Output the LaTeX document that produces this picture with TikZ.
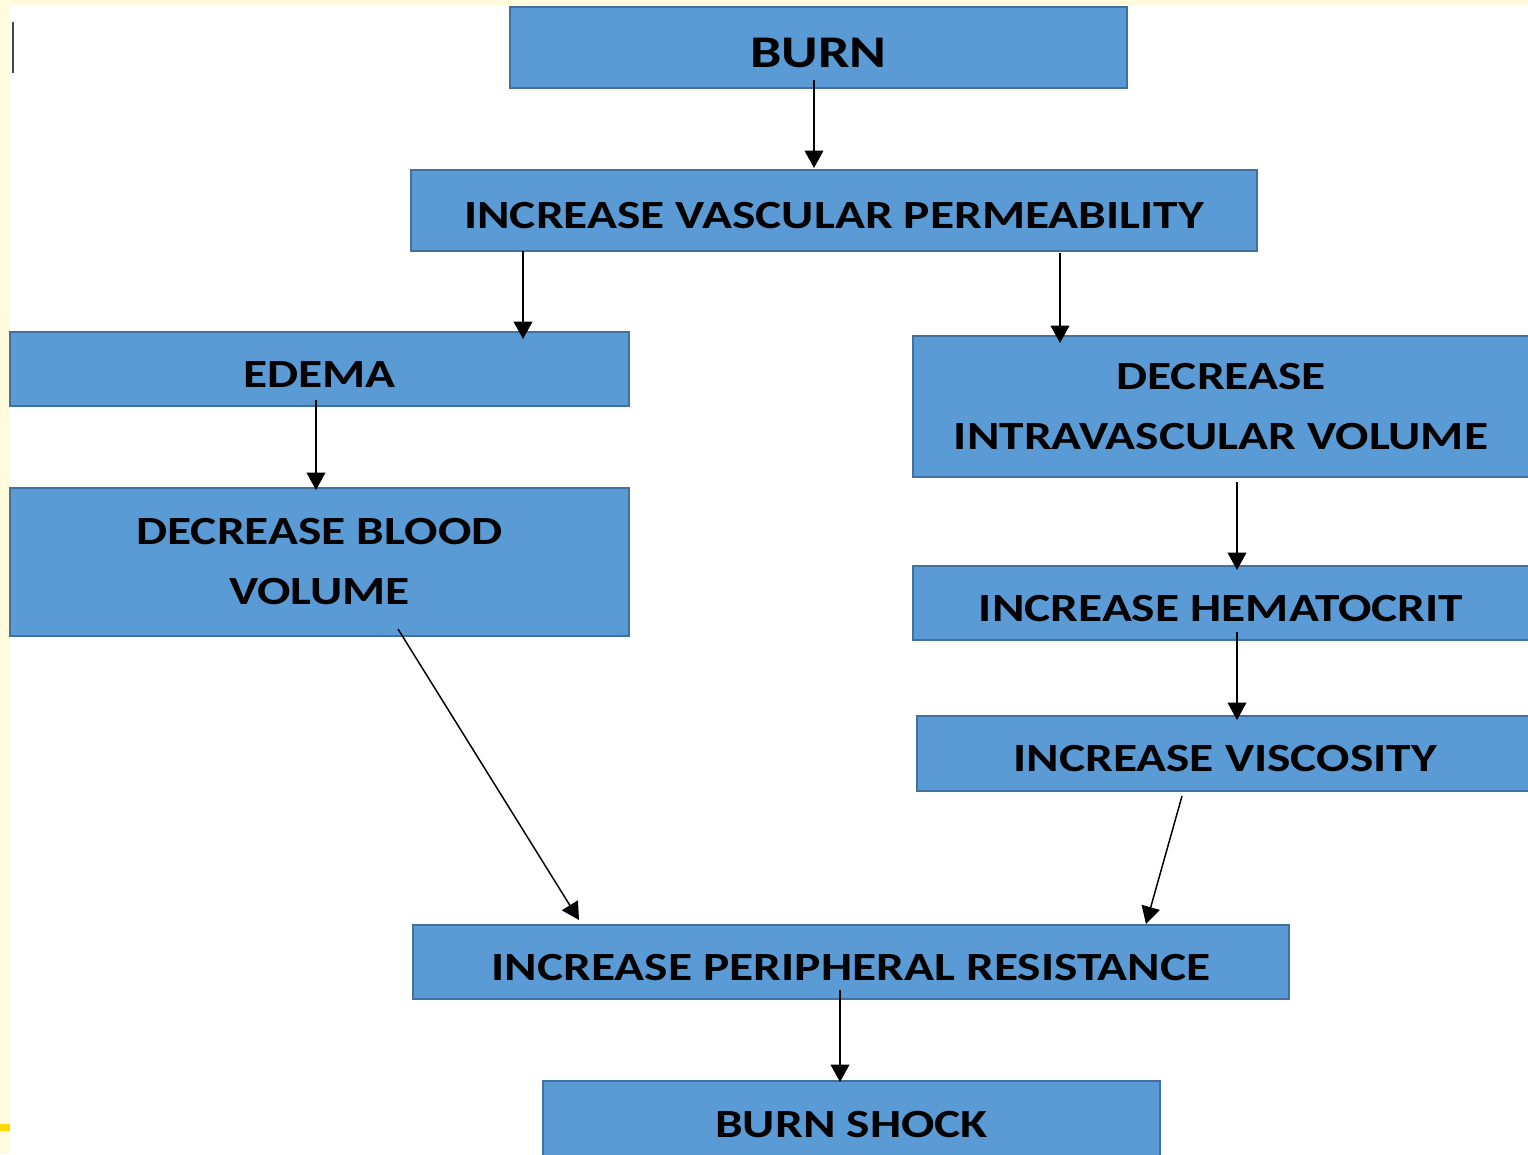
\documentclass[tikz,border=0pt]{standalone}
\usepackage{fontspec}
\setmainfont{Carlito}[FakeStretch=1.235]
\usetikzlibrary{arrows.meta,calc}
\definecolor{boxfill}{HTML}{5B9BD5}
\definecolor{boxline}{HTML}{41719C}
\definecolor{cream}{HTML}{FFFBDC}
\definecolor{markyellow}{HTML}{FFD700}
\definecolor{barcol}{HTML}{444444}
\newcommand{\lowr}[1]{\raisebox{-4pt}[\height][\depth]{#1}}
\begin{document}
\begin{tikzpicture}[x=0.75pt,y=-0.75pt,
  box/.style={draw=boxline,fill=boxfill,line width=1.7pt,inner sep=0pt,outer sep=0pt,
    font=\fontsize{30}{45}\selectfont\bfseries,align=center,text=black},
  big/.style={font=\fontsize{34}{45}\selectfont\bfseries},
  arr/.style={-{Triangle[width=14pt,length=13pt]},line width=1.1pt,draw=black}]
\useasboundingbox (0,0) rectangle (1528,1154);
\clip (0,0) rectangle (1528,1154);
% background
\fill[white] (0,0) rectangle (1528,1154);
\fill[cream] (0,0) rectangle (10,1154);
\fill[cream] (0,0) rectangle (1528,5);
\fill[markyellow] (0,1124) rectangle (10,1131);
\fill[barcol] (12,22) rectangle (14,73);
% boxes
\node[box,big,minimum width=617*0.75pt,minimum height=81*0.75pt] (burn) at (818.5,47.5) {\lowr{BURN}};
\node[box,minimum width=846*0.75pt,minimum height=81*0.75pt] (ivp) at (834,210.5) {\lowr{INCREASE VASCULAR PERMEABILITY}};
\node[box,minimum width=619*0.75pt,minimum height=74*0.75pt] (edema) at (319.5,369) {\lowr{EDEMA}};
\node[box,minimum width=619*0.75pt,minimum height=148*0.75pt] (dbv) at (319.5,562) {DECREASE BLOOD\\VOLUME};
\node[box,minimum width=616*0.75pt,minimum height=141*0.75pt] (div) at (1221,406.5) {DECREASE\\INTRAVASCULAR VOLUME};
\node[box,minimum width=616*0.75pt,minimum height=74*0.75pt] (ih) at (1221,603) {\lowr{INCREASE HEMATOCRIT}};
\node[box,minimum width=616*0.75pt,minimum height=75*0.75pt] (iv) at (1225,753.5) {\lowr{INCREASE VISCOSITY}};
\node[box,minimum width=876*0.75pt,minimum height=74*0.75pt] (ipr) at (851,962) {\lowr{INCREASE PERIPHERAL RESISTANCE}};
\node[box,minimum width=617*0.75pt,minimum height=88*0.75pt] (bs) at (851.5,1125) {BURN SHOCK};
% connectors
\draw[arr] ($(burn.south)+(-4.5,-8)$) -- ($(ivp.north)+(-20,-2)$);
\draw[arr] ($(ivp.south west)+(112,0)$) -- ($(edema.north east)+(-106,7)$);
\draw[arr] ($(ivp.south east)+(-197,2)$) -- ($(div.north west)+(147,7)$);
\draw[arr] ($(edema.south)+(-3.5,-6)$) -- ($(dbv.north)+(-3.5,2)$);
\draw[arr] ($(div.south)+(16,5)$) -- ($(ih.north)+(16,4)$);
\draw[arr] ($(ih.south)+(16,-8)$) -- ($(iv.north)+(12,4)$);
\draw[arr] ($(dbv.south)+(78.5,-7)$) -- ($(ipr.north west)+(166,-5)$);
\draw[arr] ($(iv.south)+(-43,5)$) -- ($(ipr.north east)+(-143,-1)$);
\draw[arr] ($(ipr.south)+(-11,-9)$) -- ($(bs.north)+(-11.5,1)$);
\end{tikzpicture}
\end{document}
